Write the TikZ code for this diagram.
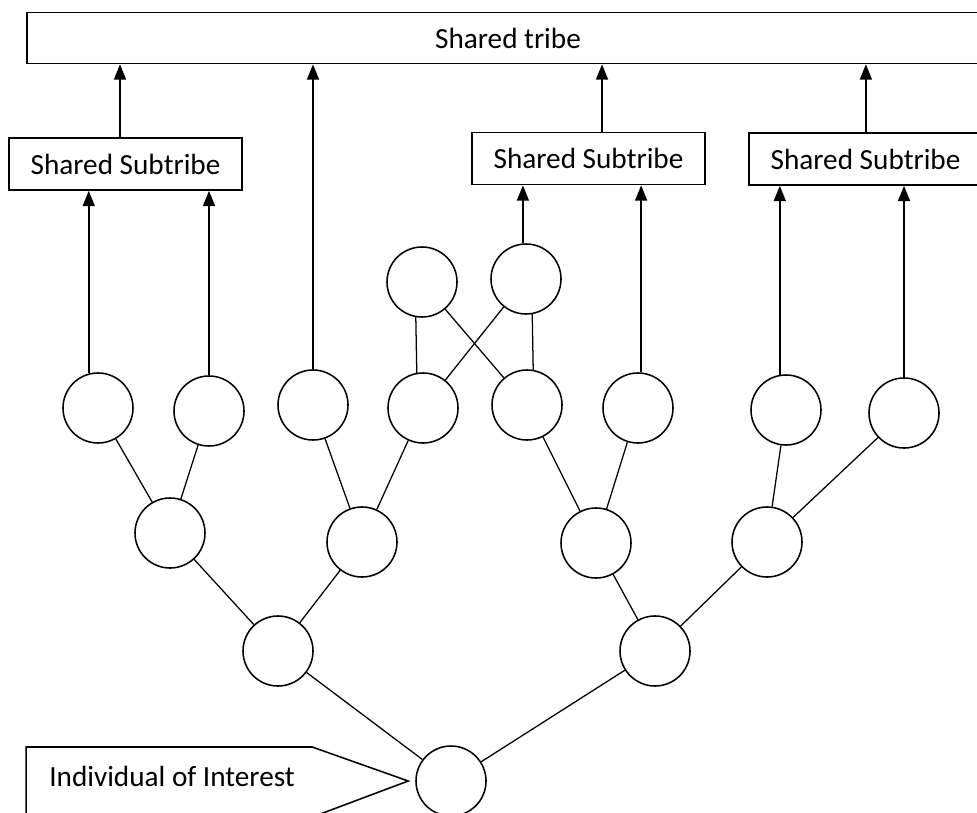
\documentclass[tikz,border=0pt]{standalone}
\usepackage{fontspec}
\setmainfont{Carlito}
\usetikzlibrary{positioning, calc, arrows.meta}

\begin{document}
\begin{tikzpicture}[x=0.025cm, y=-0.025cm,
    every node/.style={font=\fontsize{20.8pt}{24pt}\selectfont},
    person/.style={draw, circle, line width=1.1pt, minimum size=1.75cm, inner sep=0pt},
    group/.style={draw, line width=1.1pt, minimum width=5.825cm, minimum height=1.3cm, inner sep=0pt},
    link/.style={line width=0.9pt},
    up/.style={-{Triangle[width=8.5pt,length=11pt]}, line width=1.4pt}]
    \useasboundingbox (0,0) rectangle (977,813);

    % tribe and subtribes
    \node[group, minimum width=24.05cm, minimum height=1.275cm] (tribe) at (508,38) {Shared tribe};
    \node[group] (sub1) at (125.5,164) {Shared Subtribe};
    \node[group] (sub2) at (588.5,158.5) {Shared Subtribe};
    \node[group] (sub3) at (865.5,159) {Shared Subtribe};

    % family tree
    \foreach \n/\x/\y in {u1/422/282, u2/526/279,
        c1/98/408, c2/209/411, c3/313/405, c4/423/408, c5/527/405, c6/638/408, c7/786/410, c8/904/413,
        m1/170/533, m2/362/542, m3/596/543, m4/767/542,
        l1/278/651, l2/655/651, root/451/781} {
        \node[person] (\n) at (\x,\y) {};
    }
    \foreach \a/\b in {u1/c5, u2/c4, c1/m1, c2/m1, c3/m2, c4/m2, c5/m3, c6/m3, c7/m4, c8/m4,
        m1/l1, m2/l1, m3/l2, m4/l2, l1/root, l2/root} {
        \draw[link] (\a) -- (\b);
    }
    \draw[link] (u1.260) -- (c4.100);
    \draw[link] (u2.280) -- (c5.80);

    % arrows up
    \foreach \a/\b in {c1.105/sub1, c2.north/sub1, u2.95/sub2, c6.85/sub2, c7.100/sub3, c8.north/sub3} {
        \draw[up] (\a) -- (\a |- \b.south);
    }
    \draw[up] ([xshift=-0.1375cm]sub1.north) -- ([xshift=-0.1375cm]sub1.north |- tribe.south);
    \draw[up] (c3.north) -- (c3.north |- tribe.south);
    \draw[up] ([xshift=0.3375cm]sub2.north) -- ([xshift=0.3375cm]sub2.north |- tribe.south);
    \draw[up] ([xshift=0.01cm]sub3.north) -- ([xshift=0.01cm]sub3.north |- tribe.south);

    % callout
    \coordinate (tip) at ($(root.west)+(-7,0)$);
    \draw[line width=1.1pt] (tip) -- ++(-96,-34) -- ++(-286,0) -- ++(0,70) -- ++(286,0) -- cycle;
    \node[anchor=base west, inner sep=0pt] (label) at (49,786) {Individual of Interest};
\end{tikzpicture}
\end{document}
